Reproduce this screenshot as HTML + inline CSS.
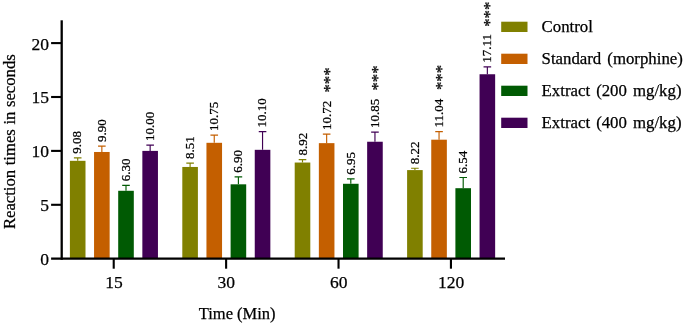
<!DOCTYPE html>
<html><head><meta charset="utf-8"><title>Chart</title>
<style>html,body{margin:0;padding:0;background:#fff}body{width:685px;height:325px;overflow:hidden}</style></head>
<body>
<svg width="685" height="325" viewBox="0 0 685 325" style="display:block;will-change:transform;filter:blur(0.3px);font-family:'Liberation Serif',serif">
<rect width="685" height="325" fill="#fff"/>
<style>text{stroke:#000;stroke-width:0.25px;stroke-linejoin:round}</style>
<rect x="69.90" y="160.82" width="15.6" height="97.88" fill="#808000"/>
<path d="M77.70 160.82V157.91M73.90 157.91H81.50" stroke="#808000" stroke-width="1.15" fill="none"/>
<text transform="translate(81.40 153.81) rotate(-90)" font-size="13" fill="#000">9.08</text>
<rect x="94.05" y="151.98" width="15.6" height="106.72" fill="#c45f00"/>
<path d="M101.85 151.98V146.05M98.05 146.05H105.65" stroke="#c45f00" stroke-width="1.15" fill="none"/>
<text transform="translate(105.55 141.95) rotate(-90)" font-size="13" fill="#000">9.90</text>
<rect x="118.20" y="190.79" width="15.6" height="67.91" fill="#005a03"/>
<path d="M126.00 190.79V185.40M122.20 185.40H129.80" stroke="#005a03" stroke-width="1.15" fill="none"/>
<text transform="translate(129.70 181.30) rotate(-90)" font-size="13" fill="#000">6.30</text>
<rect x="142.35" y="150.90" width="15.6" height="107.80" fill="#400054"/>
<path d="M150.15 150.90V145.19M146.35 145.19H153.95" stroke="#400054" stroke-width="1.15" fill="none"/>
<text transform="translate(153.85 141.09) rotate(-90)" font-size="13" fill="#000">10.00</text>
<rect x="182.30" y="166.96" width="15.6" height="91.74" fill="#808000"/>
<path d="M190.10 166.96V163.08M186.30 163.08H193.90" stroke="#808000" stroke-width="1.15" fill="none"/>
<text transform="translate(193.70 158.98) rotate(-90)" font-size="13" fill="#000">8.51</text>
<rect x="206.45" y="142.81" width="15.6" height="115.88" fill="#c45f00"/>
<path d="M214.25 142.81V135.16M210.45 135.16H218.05" stroke="#c45f00" stroke-width="1.15" fill="none"/>
<text transform="translate(217.85 131.06) rotate(-90)" font-size="13" fill="#000">10.75</text>
<rect x="230.60" y="184.32" width="15.6" height="74.38" fill="#005a03"/>
<path d="M238.40 184.32V176.88M234.60 176.88H242.20" stroke="#005a03" stroke-width="1.15" fill="none"/>
<text transform="translate(242.00 172.78) rotate(-90)" font-size="13" fill="#000">6.90</text>
<rect x="254.75" y="149.82" width="15.6" height="108.88" fill="#400054"/>
<path d="M262.55 149.82V131.60M258.75 131.60H266.35" stroke="#400054" stroke-width="1.15" fill="none"/>
<text transform="translate(266.15 127.50) rotate(-90)" font-size="13" fill="#000">10.10</text>
<rect x="294.70" y="162.54" width="15.6" height="96.16" fill="#808000"/>
<path d="M302.50 162.54V159.63M298.70 159.63H306.30" stroke="#808000" stroke-width="1.15" fill="none"/>
<text transform="translate(306.60 155.53) rotate(-90)" font-size="13" fill="#000">8.92</text>
<rect x="318.85" y="143.14" width="15.6" height="115.56" fill="#c45f00"/>
<path d="M326.65 143.14V134.08M322.85 134.08H330.45" stroke="#c45f00" stroke-width="1.15" fill="none"/>
<text transform="translate(330.75 129.98) rotate(-90)" font-size="13" fill="#000">10.72</text>
<text transform="translate(334.75 92.48) rotate(-90)" font-size="16.7" fill="#000">***</text>
<rect x="343.00" y="183.78" width="15.6" height="74.92" fill="#005a03"/>
<path d="M350.80 183.78V178.93M347.00 178.93H354.60" stroke="#005a03" stroke-width="1.15" fill="none"/>
<text transform="translate(354.90 174.83) rotate(-90)" font-size="13" fill="#000">6.95</text>
<rect x="367.15" y="141.74" width="15.6" height="116.96" fill="#400054"/>
<path d="M374.95 141.74V132.14M371.15 132.14H378.75" stroke="#400054" stroke-width="1.15" fill="none"/>
<text transform="translate(379.05 128.04) rotate(-90)" font-size="13" fill="#000">10.85</text>
<text transform="translate(383.05 90.54) rotate(-90)" font-size="16.7" fill="#000">***</text>
<rect x="407.10" y="170.09" width="15.6" height="88.61" fill="#808000"/>
<path d="M414.90 170.09V168.26M411.10 168.26H418.70" stroke="#808000" stroke-width="1.15" fill="none"/>
<text transform="translate(419.00 164.16) rotate(-90)" font-size="13" fill="#000">8.22</text>
<rect x="431.25" y="139.69" width="15.6" height="119.01" fill="#c45f00"/>
<path d="M439.05 139.69V131.60M435.25 131.60H442.85" stroke="#c45f00" stroke-width="1.15" fill="none"/>
<text transform="translate(443.15 127.50) rotate(-90)" font-size="13" fill="#000">11.04</text>
<text transform="translate(447.15 90.00) rotate(-90)" font-size="16.7" fill="#000">***</text>
<rect x="455.40" y="188.20" width="15.6" height="70.50" fill="#005a03"/>
<path d="M463.20 188.20V177.53M459.40 177.53H467.00" stroke="#005a03" stroke-width="1.15" fill="none"/>
<text transform="translate(467.30 173.43) rotate(-90)" font-size="13" fill="#000">6.54</text>
<rect x="479.55" y="74.25" width="15.6" height="184.45" fill="#400054"/>
<path d="M487.35 74.25V66.87M483.55 66.87H491.15" stroke="#400054" stroke-width="1.15" fill="none"/>
<text transform="translate(491.45 62.77) rotate(-90)" font-size="13" fill="#000">17.11</text>
<text transform="translate(495.45 26.77) rotate(-90)" font-size="16.7" fill="#000">***</text>
<path d="M61.7 20.3V259.80" stroke="#000" stroke-width="2.3" fill="none"/>
<path d="M51.1 258.70H505" stroke="#000" stroke-width="2.3" fill="none"/>
<path d="M51.1 204.80H61" stroke="#000" stroke-width="2.1"/>
<path d="M51.1 150.90H61" stroke="#000" stroke-width="2.1"/>
<path d="M51.1 97.00H61" stroke="#000" stroke-width="2.1"/>
<path d="M51.1 43.10H61" stroke="#000" stroke-width="2.1"/>
<text x="49" y="265.10" font-size="17.5" text-anchor="end" fill="#000">0</text>
<text x="49" y="211.20" font-size="17.5" text-anchor="end" fill="#000">5</text>
<text x="49" y="157.30" font-size="17.5" text-anchor="end" fill="#000">10</text>
<text x="49" y="103.40" font-size="17.5" text-anchor="end" fill="#000">15</text>
<text x="49" y="49.50" font-size="17.5" text-anchor="end" fill="#000">20</text>
<path d="M113.72 258.70V268.7" stroke="#000" stroke-width="2.1"/>
<text x="113.92" y="287.5" font-size="17.5" text-anchor="middle" fill="#000">15</text>
<path d="M226.12 258.70V268.7" stroke="#000" stroke-width="2.1"/>
<text x="226.32" y="287.5" font-size="17.5" text-anchor="middle" fill="#000">30</text>
<path d="M338.53 258.70V268.7" stroke="#000" stroke-width="2.1"/>
<text x="338.73" y="287.5" font-size="17.5" text-anchor="middle" fill="#000">60</text>
<path d="M450.93 258.70V268.7" stroke="#000" stroke-width="2.1"/>
<text x="451.12" y="287.5" font-size="17.5" text-anchor="middle" fill="#000">120</text>
<text x="237.2" y="318.6" font-size="16.5" text-anchor="middle" fill="#000">Time (Min)</text>
<text transform="translate(14.8 141.7) rotate(-90)" font-size="16.7" word-spacing="0.35" text-anchor="middle" fill="#000">Reaction times in seconds</text>
<rect x="501.2" y="21.70" width="26.3" height="10.3" fill="#808000"/>
<text x="541.6" y="32.40" font-size="16.8" word-spacing="1.9" fill="#000">Control</text>
<rect x="501.2" y="53.70" width="26.3" height="10.3" fill="#c45f00"/>
<text x="541.6" y="64.40" font-size="16.8" word-spacing="1.9" fill="#000">Standard (morphine)</text>
<rect x="501.2" y="85.70" width="26.3" height="10.3" fill="#005a03"/>
<text x="541.6" y="96.40" font-size="16.8" word-spacing="1.9" fill="#000">Extract (200 mg/kg)</text>
<rect x="501.2" y="117.70" width="26.3" height="10.3" fill="#400054"/>
<text x="541.6" y="128.40" font-size="16.8" word-spacing="1.9" fill="#000">Extract (400 mg/kg)</text>
</svg>
</body></html>
